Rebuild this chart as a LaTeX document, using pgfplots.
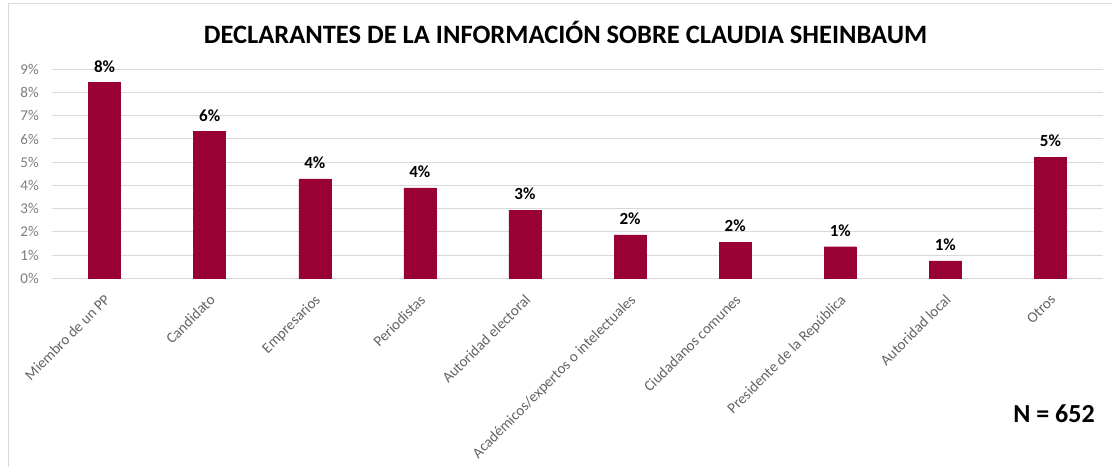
\documentclass[border=0pt]{standalone}
\usepackage{pgfplots}
\pgfplotsset{compat=1.18}
\usepackage{fontspec}
\setmainfont{Carlito}
\definecolor{barred}{RGB}{153,0,51}
\definecolor{gridgray}{RGB}{217,217,217}
\definecolor{ticktext}{RGB}{125,125,125}
\definecolor{cattext}{RGB}{100,100,100}
\pgfplotstableread{
x y lab
0 8.43 8\%
1 6.32 6\%
2 4.28 4\%
3 3.89 4\%
4 2.94 3\%
5 1.87 2\%
6 1.56 2\%
7 1.36 1\%
8 0.75 1\%
9 5.22 5\%
}\datatable
\begin{document}
\begin{tikzpicture}[x=1pt,y=1pt]
\path[use as bounding box] (0,0) rectangle (1112,467);
\draw[gridgray, line width=1pt] (8.5,0) -- (8.5,463) -- (1112,463);
\node[font=\fontsize{26.5}{30}\selectfont\bfseries] at (565.5,435) {DECLARANTES DE LA INFORMACIÓN SOBRE CLAUDIA SHEINBAUM};
\node[font=\fontsize{26}{30}\selectfont\bfseries] at (1054,53) {N = 652};
\begin{axis}[
  at={(52pt,188.7pt)}, anchor=south west,
  scale only axis, width=1051pt, height=209pt,
  xmin=-0.5, xmax=9.5, ymin=0, ymax=9,
  axis line style={draw=none},
  major tick length=0pt,
  ytick={0,1,...,9},
  yticklabels={0\%,1\%,2\%,3\%,4\%,5\%,6\%,7\%,8\%,9\%},
  y tick label style={font=\fontsize{15}{18}\selectfont, text=ticktext, inner sep=0pt, xshift=-13pt},
  ymajorgrids, grid style={gridgray, line width=1pt},
  xtick={0,...,9},
  xticklabels={Miembro de un PP, Candidato, Empresarios, Periodistas, Autoridad electoral, Académicos/expertos o intelectuales, Ciudadanos comunes, Presidente de la República, Autoridad local, Otros},
  x tick label style={xshift=-1pt, yshift=-15pt, rotate=45, anchor=north east, font=\fontsize{15}{17}\selectfont, text=cattext, inner sep=0pt},
  clip=false,
]
\addplot[ybar, bar width=32pt, fill=barred, draw=barred,
  point meta=explicit symbolic,
  nodes near coords,
  every node near coord/.append style={font=\fontsize{17}{20}\selectfont\bfseries, text=black, anchor=south, inner sep=0pt, yshift=10pt}]
  table[x=x, y=y, meta=lab] {\datatable};
\end{axis}
\end{tikzpicture}
\end{document}
